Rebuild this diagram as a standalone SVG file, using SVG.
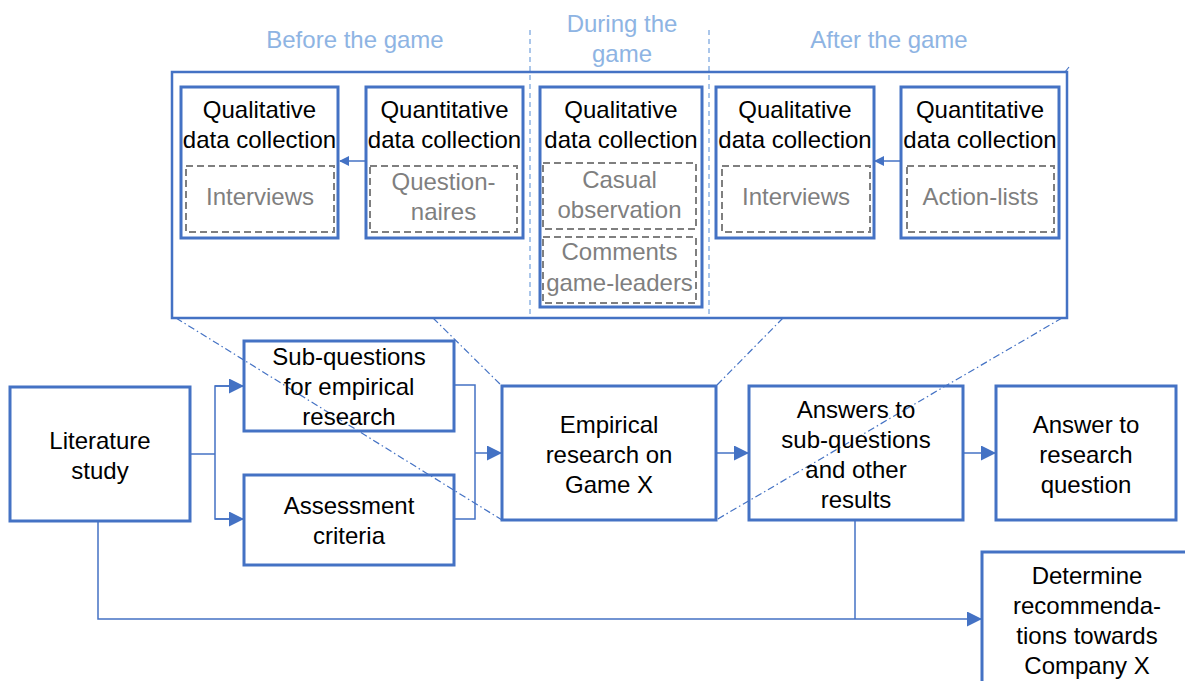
<svg xmlns="http://www.w3.org/2000/svg" width="1185" height="681" viewBox="0 0 1185 681">
<style>
text{font-family:"Liberation Sans",Arial,sans-serif;font-size:24px;text-anchor:middle;fill:#000}
.hdr{fill:#8EB4E3}
.gray{fill:#7F7F7F}
.box{fill:none;stroke:#4472C4;stroke-width:3}
.frame{fill:none;stroke:#4472C4;stroke-width:2.5}
.dbox{fill:none;stroke:#7F7F7F;stroke-width:2;stroke-dasharray:7 4}
.sep{stroke:#8EB4E3;stroke-width:1.5;stroke-dasharray:5 4;fill:none}
.con{fill:none;stroke:#4472C4;stroke-width:1.5}
.dd{fill:none;stroke:#4472C4;stroke-width:1.2;stroke-dasharray:7 3 1.5 3}
</style>
<defs>
<marker id="ah" markerWidth="10" markerHeight="10" refX="9" refY="5" orient="auto" markerUnits="userSpaceOnUse" viewBox="0 0 10 10">
<path d="M0,0 L10,5 L0,10 z" fill="#4472C4"/>
</marker>
<marker id="ahb" markerWidth="15" markerHeight="15" refX="14" refY="7.5" orient="auto" markerUnits="userSpaceOnUse" viewBox="0 0 15 15">
<path d="M0,0 L15,7.5 L0,15 z" fill="#4472C4"/>
</marker>
</defs>

<g id="headers">
<text class="hdr" x="355" y="48">Before the game</text>
<text class="hdr" x="622" y="32">During the</text>
<text class="hdr" x="622" y="62">game</text>
<text class="hdr" x="889" y="48">After the game</text>
<line class="sep" x1="530" y1="30" x2="530" y2="318"/>
<line class="sep" x1="709" y1="30" x2="709" y2="318"/>
</g>

<g id="frame">
<rect class="frame" x="172" y="72" width="895" height="246"/>
<line class="dd" x1="1065" y1="72" x2="1069" y2="67"/>
</g>

<g id="connectors">
<line class="dd" x1="176" y1="318" x2="502" y2="520"/>
<line class="dd" x1="433" y1="318" x2="502" y2="386"/>
<line class="dd" x1="783" y1="318" x2="716" y2="386"/>
<line class="dd" x1="1062" y1="318" x2="716" y2="520"/>
<line class="con" x1="366" y1="161" x2="340" y2="161" marker-end="url(#ah)"/>
<line class="con" x1="901" y1="161" x2="875" y2="161" marker-end="url(#ah)"/>
<polyline class="con" points="190,454 215,454"/>
<polyline class="con" points="244,386 215,386 215,519 244,519"/>
<line class="con" x1="215" y1="386" x2="243" y2="386" marker-end="url(#ahb)"/>
<line class="con" x1="215" y1="519" x2="243" y2="519" marker-end="url(#ahb)"/>
<polyline class="con" points="454,385 475,385 475,519 454,519"/>
<line class="con" x1="475" y1="453" x2="501" y2="453" marker-end="url(#ahb)"/>
<line class="con" x1="716" y1="453" x2="748" y2="453" marker-end="url(#ahb)"/>
<line class="con" x1="963" y1="453" x2="995" y2="453" marker-end="url(#ahb)"/>
<polyline class="con" points="98,521 98,619 981,619" marker-end="url(#ahb)"/>
<line class="con" x1="855" y1="520" x2="855" y2="619"/>
</g>

<g id="before-qual">
<rect class="box" x="181" y="87" width="157" height="151"/>
<text x="259.5" y="118">Qualitative</text>
<text x="259.5" y="148">data collection</text>
<rect class="dbox" x="186" y="166" width="148" height="66"/>
<text class="gray" x="260" y="205">Interviews</text>
</g>

<g id="before-quant">
<rect class="box" x="366" y="87" width="157" height="151"/>
<text x="444.5" y="118">Quantitative</text>
<text x="444.5" y="148">data collection</text>
<rect class="dbox" x="370" y="166" width="147" height="66"/>
<text class="gray" x="443.5" y="190">Question-</text>
<text class="gray" x="443.5" y="220">naires</text>
</g>

<g id="during-qual">
<rect class="box" x="540" y="87" width="162" height="220"/>
<text x="621" y="118">Qualitative</text>
<text x="621" y="148">data collection</text>
<rect class="dbox" x="543" y="163" width="153" height="66"/>
<text class="gray" x="619.5" y="188">Casual</text>
<text class="gray" x="619.5" y="218">observation</text>
<rect class="dbox" x="543" y="237" width="153" height="66"/>
<text class="gray" x="619.5" y="260">Comments</text>
<text class="gray" x="619.5" y="291">game-leaders</text>
</g>

<g id="after-qual">
<rect class="box" x="716" y="87" width="158" height="151"/>
<text x="795" y="118">Qualitative</text>
<text x="795" y="148">data collection</text>
<rect class="dbox" x="722" y="166" width="148" height="66"/>
<text class="gray" x="796" y="205">Interviews</text>
</g>

<g id="after-quant">
<rect class="box" x="901" y="87" width="158" height="151"/>
<text x="980" y="118">Quantitative</text>
<text x="980" y="148">data collection</text>
<rect class="dbox" x="907" y="166" width="147" height="66"/>
<text class="gray" x="980.5" y="205">Action-lists</text>
</g>

<g id="literature">
<rect class="box" x="10" y="387" width="180" height="134"/>
<text x="100" y="449">Literature</text>
<text x="100" y="479">study</text>
</g>

<g id="subquestions">
<rect class="box" x="244" y="341" width="210" height="90"/>
<text x="349" y="365">Sub-questions</text>
<text x="349" y="395">for empirical</text>
<text x="349" y="425">research</text>
</g>

<g id="assessment">
<rect class="box" x="244" y="475" width="210" height="90"/>
<text x="349" y="514">Assessment</text>
<text x="349" y="544">criteria</text>
</g>

<g id="empirical">
<rect class="box" x="502" y="386" width="214" height="134"/>
<text x="609" y="433">Empirical</text>
<text x="609" y="463">research on</text>
<text x="609" y="493">Game X</text>
</g>

<g id="answers">
<rect class="box" x="749" y="386" width="214" height="134"/>
<text x="856" y="418">Answers to</text>
<text x="856" y="448">sub-questions</text>
<text x="856" y="478">and other</text>
<text x="856" y="508">results</text>
</g>

<g id="answer-rq">
<rect class="box" x="996" y="386" width="180" height="134"/>
<text x="1086" y="433">Answer to</text>
<text x="1086" y="463">research</text>
<text x="1086" y="493">question</text>
</g>

<g id="recommendations">
<rect class="box" x="982" y="552" width="210" height="140"/>
<text x="1087" y="584">Determine</text>
<text x="1087" y="614">recommenda-</text>
<text x="1087" y="644">tions towards</text>
<text x="1087" y="674">Company X</text>
</g>
</svg>
